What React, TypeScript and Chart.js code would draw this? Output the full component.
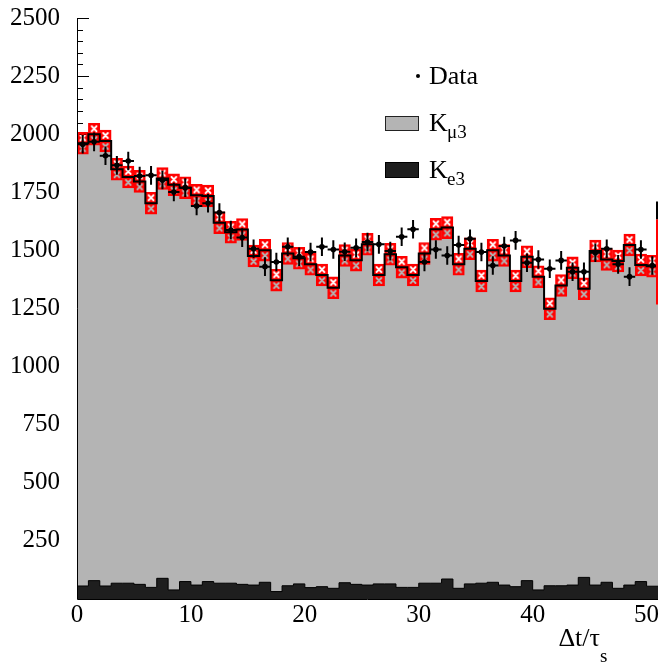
import React, { useEffect, useRef } from 'react';
import { Chart, registerables } from 'chart.js';

Chart.register(...registerables);

// ---- data ----
const binLow = [0,1,2,3,4,5,6,7,8,9,10,11,12,13,14,15,16,17,18,19,20,21,22,23,24,25,26,27,28,29,30,31,32,33,34,35,36,37,38,39,40,41,42,43,44,45,46,47,48,49,50];
const binWidth = 1;

const mcTotal = [1961,2000,1971,1849,1816,1797,1703,1809,1782,1770,1737,1734,1619,1578,1590,1476,1501,
  1372,1487,1466,1440,1394,1339,1478,1458,1526,1394,1483,1428,1394,1487,1591,1598,1440,
  1507,1368,1501,1478,1368,1473,1387,1249,1349,1425,1335,1497,1461,1454,1523,1437,1432];

const ke3 = [56,79,56,68,68,63,50,89,39,75,60,75,68,68,63,60,72,32,57,65,49,53,46,70,63,
  60,65,65,50,50,68,68,86,46,65,68,72,60,53,79,39,57,57,60,93,60,72,46,60,75,55];

const dataCounts = [1957,1967,1907,1866,1885,1820,1823,1803,1751,1770,1691,1703,1663,1588,1555,1507,1430,
  1450,1516,1473,1493,1516,1504,1494,1511,1536,1526,1497,1559,1591,1450,1504,1478,1523,
  1550,1493,1435,1519,1543,1447,1461,1421,1457,1408,1408,1490,1507,1440,1387,1504,1435];

const mcErr = 47;
const dataErr = 40;

const edgeRed = [1267, 1634];
const edgeBlack = [1634, 1710];

const xTicks = [0, 10, 20, 30, 40, 50];
const yTicks = [250, 500, 750, 1000, 1250, 1500, 1750, 2000, 2250, 2500];
const yMinorStep = 50;

const SERIF = '"Liberation Serif", "DejaVu Serif", serif';

function makeTile(): HTMLCanvasElement {
  const c = document.createElement('canvas');
  c.width = 12;
  c.height = 11;
  const g = c.getContext('2d')!;
  g.fillStyle = '#ff0000';
  g.fillRect(0, 0, 12, 11);
  g.globalCompositeOperation = 'destination-out';
  g.lineWidth = 2;
  g.lineCap = 'round';
  g.beginPath();
  g.moveTo(3.5, 3); g.lineTo(8.5, 8);
  g.moveTo(8.5, 3); g.lineTo(3.5, 8);
  g.stroke();
  return c;
}

function stepPoints(arr: number[]) {
  const pts = arr.map((v, i) => ({ x: binLow[i], y: v }));
  pts.push({ x: binLow[arr.length - 1] + binWidth, y: arr[arr.length - 1] });
  return pts;
}

export default function App() {
  const ref = useRef<HTMLCanvasElement>(null);

  useEffect(() => {
    document.body.style.margin = '0';
    const canvas = ref.current!;
    const tile = makeTile();

    const overlay = {
      id: 'overlay',
      beforeDatasetsDraw(chart: any) {
        const { ctx, chartArea: a, scales } = chart;
        const y = scales.y;
        ctx.save();
        ctx.strokeStyle = '#000';
        ctx.lineWidth = 1;
        for (let v = yMinorStep; v <= 2500; v += yMinorStep) {
          const py = Math.round(y.getPixelForValue(v)) + 0.5;
          const len = yTicks.includes(v) ? 12 : 6;
          ctx.beginPath();
          ctx.moveTo(a.left, py);
          ctx.lineTo(a.left + len, py);
          ctx.stroke();
        }
        ctx.restore();
      },
      afterDatasetsDraw(chart: any) {
        const { ctx, chartArea: a, scales } = chart;
        const x = scales.x, y = scales.y;
        ctx.save();
        ctx.beginPath();
        ctx.rect(a.left, a.top, a.right - a.left, a.bottom - a.top);
        ctx.clip();
        // data error bars
        ctx.strokeStyle = '#000';
        ctx.lineWidth = 2;
        dataCounts.forEach((v, i) => {
          const cx = x.getPixelForValue(binLow[i] + binWidth / 2);
          const cy = y.getPixelForValue(v);
          ctx.beginPath();
          ctx.moveTo(cx, y.getPixelForValue(v + dataErr));
          ctx.lineTo(cx, y.getPixelForValue(v - dataErr));
          ctx.moveTo(x.getPixelForValue(binLow[i]), cy);
          ctx.lineTo(x.getPixelForValue(binLow[i] + binWidth), cy);
          ctx.stroke();
        });
        // right edge partial bin
        const ex = a.right - 1;
        ctx.lineWidth = 2;
        ctx.strokeStyle = '#ff0000';
        ctx.beginPath();
        ctx.moveTo(ex, y.getPixelForValue(edgeRed[0]));
        ctx.lineTo(ex, y.getPixelForValue(edgeRed[1]));
        ctx.stroke();
        ctx.strokeStyle = '#000';
        ctx.beginPath();
        ctx.moveTo(ex, y.getPixelForValue(edgeBlack[0]));
        ctx.lineTo(ex, y.getPixelForValue(edgeBlack[1]));
        ctx.stroke();
        ctx.restore();

        // axis lines
        ctx.save();
        ctx.strokeStyle = '#000';
        ctx.lineWidth = 1;
        ctx.beginPath();
        ctx.moveTo(Math.round(a.left) + 0.5, a.top);
        ctx.lineTo(Math.round(a.left) + 0.5, Math.round(a.bottom) + 0.5);
        ctx.lineTo(a.right, Math.round(a.bottom) + 0.5);
        ctx.stroke();

        // legend
        ctx.fillStyle = '#000';
        ctx.textAlign = 'left';
        ctx.textBaseline = 'alphabetic';
        ctx.beginPath();
        ctx.arc(418, 76, 2, 0, Math.PI * 2);
        ctx.fill();
        ctx.font = `26px ${SERIF}`;
        ctx.fillText('Data', 429, 84);

        ctx.fillStyle = '#b4b4b4';
        ctx.fillRect(385, 116, 34, 15);
        ctx.strokeStyle = '#222';
        ctx.lineWidth = 1;
        ctx.strokeRect(385.5, 116.5, 33, 14);
        ctx.fillStyle = '#000';
        ctx.font = `26px ${SERIF}`;
        ctx.fillText('K', 429, 131);
        ctx.font = `19px ${SERIF}`;
        ctx.fillText('μ3', 447, 138);

        ctx.fillStyle = '#1e1e1e';
        ctx.fillRect(385, 162, 34, 16);
        ctx.strokeStyle = '#000';
        ctx.strokeRect(385.5, 162.5, 33, 15);
        ctx.fillStyle = '#000';
        ctx.font = `26px ${SERIF}`;
        ctx.fillText('K', 429, 178);
        ctx.font = `19px ${SERIF}`;
        ctx.fillText('e3', 447, 185);

        // x-axis title
        ctx.font = `26px ${SERIF}`;
        ctx.textAlign = 'right';
        ctx.fillText('Δt/τ', 600, 646);
        ctx.textAlign = 'left';
        ctx.font = `19px ${SERIF}`;
        ctx.fillText('s', 600, 662);
        ctx.restore();
      },
    };

    const chart = new Chart(canvas, {
      type: 'line',
      data: {
        datasets: [
          {
            type: 'line',
            label: 'Data',
            data: dataCounts.map((v, i) => ({ x: binLow[i] + binWidth / 2, y: v })),
            showLine: false,
            pointRadius: 2.8,
            pointBackgroundColor: '#000',
            pointBorderColor: '#000',
            pointBorderWidth: 0,
            order: 0,
          },
          {
            type: 'line',
            label: 'MC outline',
            data: stepPoints(mcTotal),
            stepped: 'before',
            borderColor: '#000',
            borderWidth: 2,
            fill: false,
            pointRadius: 0,
            order: 1,
          },
          {
            type: 'bar',
            label: 'MC error',
            data: mcTotal.map((t, i) => ({ x: binLow[i] + binWidth / 2, y: [t - mcErr, t + mcErr] })),
            barPercentage: 1,
            categoryPercentage: 1,
            borderColor: '#ff0000',
            borderWidth: 1,
            borderSkipped: false,
            backgroundColor: (c: any) => {
              const ch = c.chart;
              const xs = ch.scales && ch.scales.x;
              const ys = ch.scales && ch.scales.y;
              if (!xs || !ys || c.dataIndex === undefined) return '#ff0000';
              const i = c.dataIndex;
              const x0 = xs.getPixelForValue(binLow[i]);
              const x1 = xs.getPixelForValue(binLow[i] + binWidth);
              const yTop = ys.getPixelForValue(mcTotal[i] + mcErr);
              const yBot = ys.getPixelForValue(mcTotal[i] - mcErr);
              if (![x0, x1, yTop, yBot].every(Number.isFinite) || x1 - x0 <= 0 || yBot - yTop <= 0) return '#ff0000';
              const pat = ch.ctx.createPattern(tile, 'repeat');
              if (!pat) return '#ff0000';
              pat.setTransform(new DOMMatrix().translate(x0, yTop).scale((x1 - x0) / 12, (yBot - yTop) / 2 / 11));
              return pat;
            },
            order: 2,
          } as any,
          {
            type: 'line',
            label: 'Ke3',
            data: stepPoints(ke3),
            stepped: 'before',
            borderColor: '#000',
            borderWidth: 1,
            backgroundColor: '#1e1e1e',
            fill: 'origin',
            pointRadius: 0,
            order: 3,
          },
          {
            type: 'line',
            label: 'Kμ3',
            data: stepPoints(mcTotal),
            stepped: 'before',
            borderWidth: 0,
            borderColor: 'rgba(0,0,0,0)',
            backgroundColor: '#b4b4b4',
            fill: 'origin',
            pointRadius: 0,
            order: 4,
          },
        ],
      },
      options: {
        responsive: false,
        animation: false,
        devicePixelRatio: 1,
        events: [],
        layout: { padding: { top: 18, right: 5, left: 0, bottom: 0 } },
        plugins: { legend: { display: false }, tooltip: { enabled: false } },
        scales: {
          x: {
            type: 'linear',
            min: 0,
            max: 51,
            offset: false,
            grid: { display: false },
            border: { display: false },
            ticks: { font: { family: SERIF, size: 25 }, color: '#000', padding: -7, maxRotation: 0, autoSkip: false, callback: (v: any) => String(v) },
            afterBuildTicks: (s: any) => { s.ticks = xTicks.map((v) => ({ value: v })); },
            afterFit: (s: any) => { s.height = 70; s.paddingLeft = 0; s.paddingRight = 0; },
          },
          y: {
            type: 'linear',
            min: 0,
            max: 2500,
            grid: { display: false },
            border: { display: false },
            ticks: { font: { family: SERIF, size: 25 }, color: '#000', padding: 9, callback: (v: any) => String(v) },
            afterBuildTicks: (s: any) => { s.ticks = yTicks.map((v) => ({ value: v })); },
            afterFit: (s: any) => { s.width = 77; s.paddingTop = 0; s.paddingBottom = 0; },
          },
        },
      },
      plugins: [overlay],
    } as any);

    return () => chart.destroy();
  }, []);

  return <canvas ref={ref} width={663} height={669} style={{ display: 'block', width: 663, height: 669 }} />;
}
